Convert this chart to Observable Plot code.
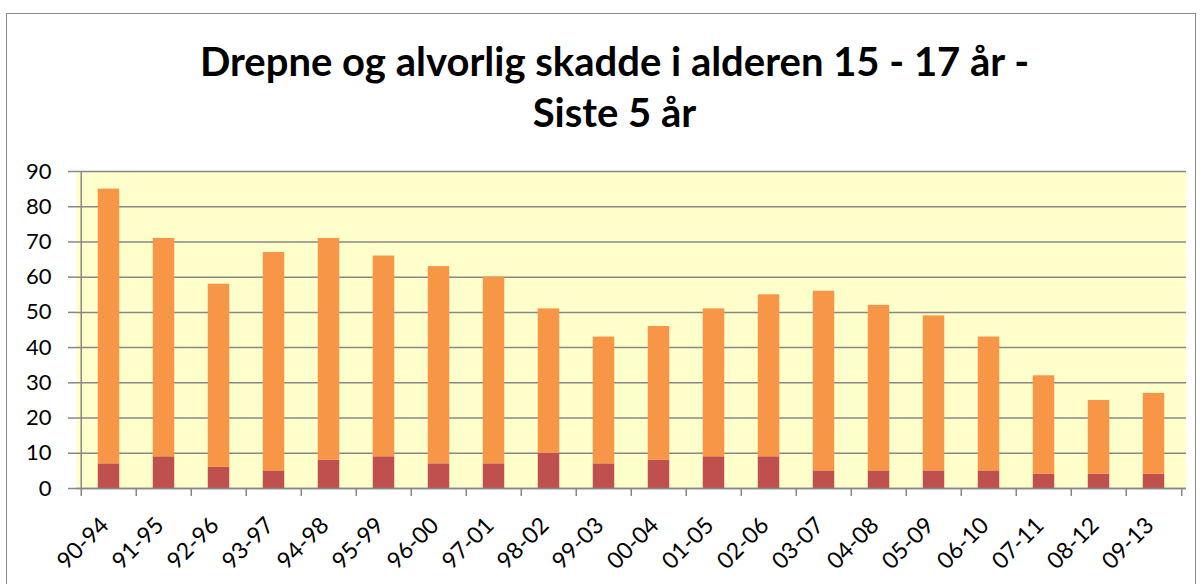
<!DOCTYPE html>
<html>
<head>
<meta charset="utf-8">
<script src="https://cdn.jsdelivr.net/npm/d3@7"></script>
<script src="https://cdn.jsdelivr.net/npm/@observablehq/plot@0.6"></script>
<style>
  html, body { margin: 0; padding: 0; background: #fff; }
  #wrap { position: relative; width: 1204px; height: 584px; overflow: hidden; font-family: Lato, "Open Sans", sans-serif; }
  #border { position: absolute; left: 6px; top: 13px; width: 1190px; height: 600px; border: 1.5px solid #8c8c8c; box-sizing: border-box; }
  #title { position: absolute; left: 0; top: 36px; width: 1229px; text-align: center; font-weight: bold; font-size: 40px; line-height: 51px; color: #000; z-index: 2; }
  #chart { position: absolute; left: 0; top: 0; }
</style>
</head>
<body>
<div id="wrap">
  <div id="border"></div>
  <div id="chart"></div>
  <div id="title">Drepne og alvorlig skadde i alderen 15 - 17 år -<br>Siste 5 år</div>
</div>
<script>
const categories = ["90-94","91-95","92-96","93-97","94-98","95-99","96-00","97-01","98-02","99-03","00-04","01-05","02-06","03-07","04-08","05-09","06-10","07-11","08-12","09-13"];
const killed  = [7, 9, 6, 5, 8, 9, 7, 7, 10, 7, 8, 9, 9, 5, 5, 5, 5, 4, 4, 4];
const injured = [78, 62, 52, 62, 63, 57, 56, 53, 41, 36, 38, 42, 46, 51, 47, 44, 38, 28, 21, 23];
const seriesNames = ["Drepte", "Alvorlig skadde"];
const seriesColors = ["#C0504D", "#F79646"];
const yTicks = [0, 10, 20, 30, 40, 50, 60, 70, 80, 90];

const rows = [];
categories.forEach((c, i) => {
  rows.push({cat: c, type: seriesNames[0], value: killed[i]});
  rows.push({cat: c, type: seriesNames[1], value: injured[i]});
});

const W = 1204, H = 584;
const mL = 76, mR = 18, mT = 171, mB = 96;
const bw = (W - mL - mR) / categories.length;
const barW = 22;
const inset = (bw - barW) / 2;
const gray = "#878787";

const chart = Plot.plot({
  width: W, height: H,
  marginLeft: mL, marginRight: mR, marginTop: mT, marginBottom: mB,
  style: {fontFamily: "Lato, 'Open Sans', sans-serif", color: "#000", background: "transparent", overflow: "visible"},
  x: {domain: categories, padding: 0, label: null},
  y: {domain: [0, 90], label: null},
  color: {domain: seriesNames, range: seriesColors},
  marks: [
    Plot.frame({fill: "#FFFFCC", stroke: null}),
    Plot.gridY(yTicks, {stroke: gray, strokeOpacity: 1, strokeWidth: 1.5}),
    Plot.rectY(rows, Plot.stackY({x: "cat", y: "value", fill: "type", insetLeft: inset, insetRight: inset})),
    Plot.ruleY([0], {stroke: gray, strokeWidth: 1.5}),
    Plot.ruleX([categories[0]], {dx: -bw / 2, stroke: gray, strokeWidth: 1.5}),
    Plot.ruleX(categories, {dx: -bw / 2, y1: 0, y2: 0, insetBottom: -8, stroke: gray, strokeWidth: 1.5}),
    Plot.ruleX([categories[categories.length - 1]], {dx: bw / 2, y1: 0, y2: 0, insetBottom: -8, stroke: gray, strokeWidth: 1.5}),
    Plot.axisY(yTicks, {tickSize: 8, tickPadding: 17, stroke: gray, strokeWidth: 1.5, fill: "#000", fontSize: 22}),
    Plot.axisX({tickSize: 0, tickRotate: -45, tickPadding: 33, dx: -4, fill: "#000", fontSize: 23, label: null})
  ]
});
document.getElementById("chart").appendChild(chart);
</script>
</body>
</html>
